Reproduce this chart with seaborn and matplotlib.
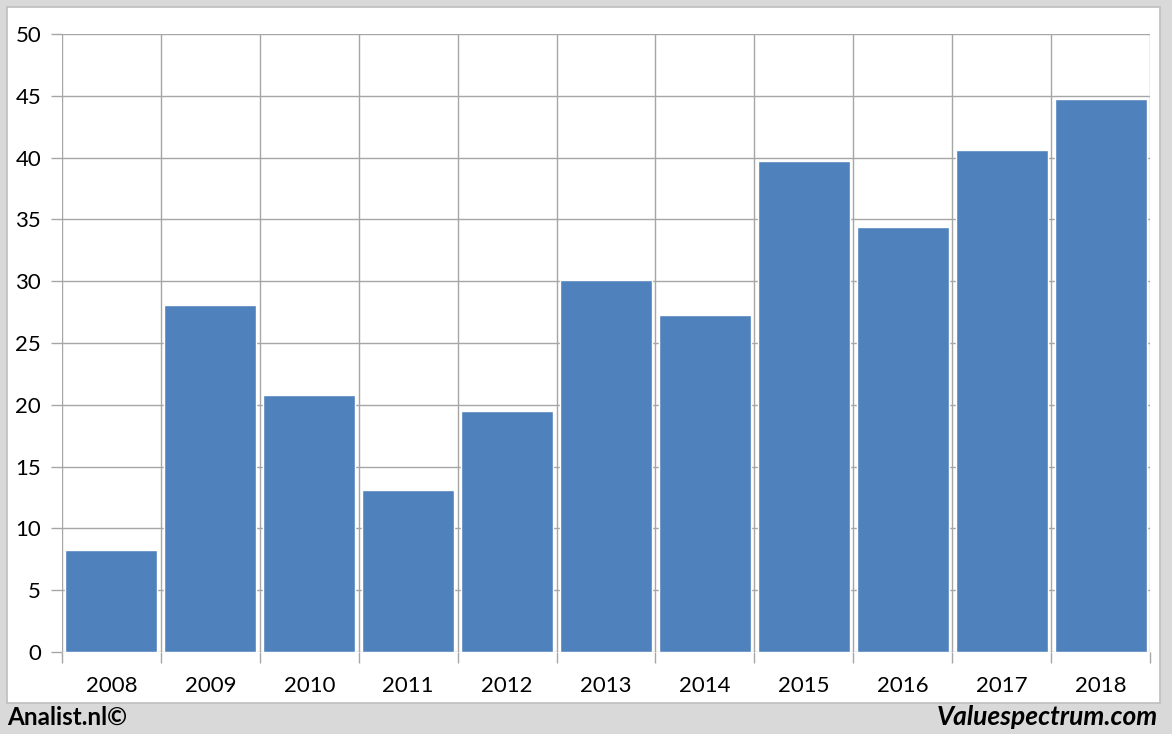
import matplotlib
matplotlib.use("Agg")
import matplotlib.pyplot as plt
from matplotlib.patches import Rectangle
from matplotlib.ticker import FixedLocator
import seaborn as sns
import pandas as pd

years = ["2008", "2009", "2010", "2011", "2012", "2013", "2014", "2015", "2016", "2017", "2018"]
values = [8.25, 28.05, 20.8, 13.1, 19.5, 30.1, 27.25, 39.7, 34.4, 40.6, 44.75]
y_ticks = [0, 5, 10, 15, 20, 25, 30, 35, 40, 45, 50]

sns.set_theme(style="white")
plt.rcParams['font.family'] = ['Lato', 'DejaVu Sans']

df = pd.DataFrame({"year": years, "value": values})

fig = plt.figure(figsize=(11.72, 7.34), dpi=100, facecolor="#d9d9d9")
fig.add_artist(Rectangle((7/1172, 31/734), (1160-7)/1172, (703-7)/734,
                         transform=fig.transFigure, facecolor="white",
                         edgecolor="#bfbfbf", linewidth=1.2, zorder=0))
ax = fig.add_axes([62/1172, 82/734, (1150-62)/1172, (652-34)/734])
ax.set_facecolor("none")

sns.barplot(data=df, x="year", y="value", color="#4f81bd", saturation=1,
            width=0.93, ax=ax, zorder=3)

ax.set_xlim(-0.5, len(years) - 0.5)
ax.set_ylim(0, 50)
ax.set_yticks(y_ticks)
ax.xaxis.set_minor_locator(FixedLocator([i - 0.5 for i in range(len(years) + 1)]))
ax.set_axisbelow(True)
ax.grid(axis="y", which="major", color="#a6a6a6", linewidth=1.0)
ax.grid(axis="x", which="minor", color="#a6a6a6", linewidth=1.0)
ax.grid(axis="x", which="major", visible=False)
for s in ax.spines.values():
    s.set_visible(False)

ax.tick_params(axis="x", which="major", length=0, pad=17, labelsize=16, labelcolor="black")
ax.tick_params(axis="x", which="minor", length=8, width=1.0, color="#a6a6a6",
               direction="out", bottom=True)
ax.tick_params(axis="y", which="major", length=8, width=1.0, color="#a6a6a6", pad=7,
               labelsize=16, labelcolor="black", left=True)
ax.set_xlabel("")
ax.set_ylabel("")

fig.text(7/1172, 1 - 717/734, "Analist.nl©", fontsize=17.5, fontweight="bold",
         ha="left", va="center", color="black")
fig.text(1158/1172, 1 - 717/734, "Valuespectrum.com", fontsize=19, fontweight="bold",
         fontstyle="italic", ha="right", va="center", color="black")

fig.savefig("out.png", dpi=100, facecolor=fig.get_facecolor())
